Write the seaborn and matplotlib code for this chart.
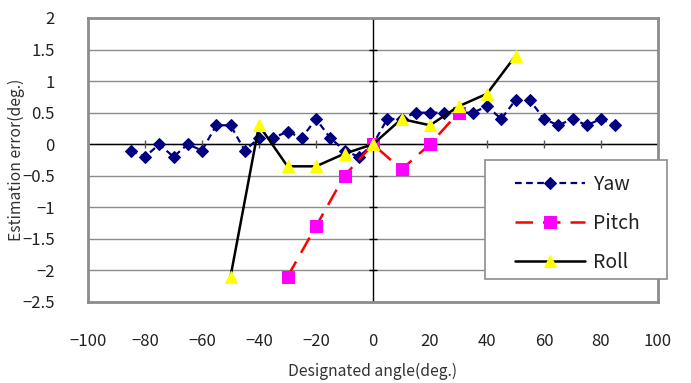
import numpy as np
import pandas as pd
import matplotlib
matplotlib.use("Agg")
import matplotlib.pyplot as plt
from matplotlib.patches import Rectangle
import seaborn as sns

# ---- data ----
yaw_x = [-85, -80, -75, -70, -65, -60, -55, -50, -45, -40, -35, -30, -25, -20, -15, -10, -5, 0,
         5, 10, 15, 20, 25, 30, 35, 40, 45, 50, 55, 60, 65, 70, 75, 80, 85]
yaw_y = [-0.1, -0.2, 0.0, -0.2, 0.0, -0.1, 0.3, 0.3, -0.1, 0.1, 0.1, 0.2, 0.1, 0.4, 0.1, -0.1, -0.2, 0.0,
         0.4, 0.4, 0.5, 0.5, 0.5, 0.5, 0.5, 0.6, 0.4, 0.7, 0.7, 0.4, 0.3, 0.4, 0.3, 0.4, 0.3]
pitch_x = [-30, -20, -10, 0, 10, 20, 30]
pitch_y = [-2.1, -1.3, -0.5, 0.0, -0.4, 0.0, 0.5]
roll_x = [-50, -40, -30, -20, -10, 0, 10, 20, 30, 40, 50]
roll_y = [-2.1, 0.3, -0.35, -0.35, -0.15, 0.0, 0.4, 0.3, 0.6, 0.8, 1.4]

x_ticks = [-100, -80, -60, -40, -20, 0, 20, 40, 60, 80, 100]
y_ticks = [-2.5, -2, -1.5, -1, -0.5, 0, 0.5, 1, 1.5, 2]
x_label = "Designated angle(deg.)"
y_label = "Estimation error(deg.)"

sns.set_style("white")
plt.rcParams['font.family'] = ['Noto Sans CJK JP', 'DejaVu Sans']

W, H = 691, 383
fig = plt.figure(figsize=(W / 100, H / 100), dpi=100)
ax = fig.add_axes([88 / W, 1 - 302 / H, (658 - 88) / W, (302 - 18) / H])

ax.set_xlim(-100, 100)
ax.set_ylim(-2.5, 2)

# gridlines
for yv in y_ticks[1:-1]:
    ax.axhline(yv, color="#8c8c8c", lw=1.0, zorder=0)
# axes through origin
ax.axhline(0, color="black", lw=1.0, zorder=1)
ax.axvline(0, color="black", lw=1.0, zorder=1)
# small ticks on the zero axes
ax.vlines([t for t in x_ticks if t not in (-100, 0, 100)], -0.06, 0.06, color="#555555", lw=1.0, zorder=1)
ax.hlines([t for t in y_ticks if t not in (-2.5, 2)], -1.5, 1.5, color="black", lw=1.0, zorder=1)

df_yaw = pd.DataFrame({"x": yaw_x, "y": yaw_y})
df_pitch = pd.DataFrame({"x": pitch_x, "y": pitch_y})
df_roll = pd.DataFrame({"x": roll_x, "y": roll_y})

sns.lineplot(data=df_yaw, x="x", y="y", ax=ax, color="#000080", linestyle=(0, (3, 2)), lw=1.6,
             marker="D", markersize=6.5, markerfacecolor="#000080", markeredgecolor="#000080",
             label="Yaw", zorder=3)
sns.lineplot(data=df_pitch, x="x", y="y", ax=ax, color="#ff0000", linestyle=(0, (7, 4)), lw=1.8,
             marker="s", markersize=8, markerfacecolor="#ff00ff", markeredgecolor="#ff00ff",
             label="Pitch", zorder=4)
sns.lineplot(data=df_roll, x="x", y="y", ax=ax, color="black", linestyle="-", lw=1.8,
             marker="^", markersize=9, markerfacecolor="#ffff00", markeredgecolor="#ffff00",
             label="Roll", zorder=5)

# frame
for s in ax.spines.values():
    s.set_color("#8c8c8c")
    s.set_linewidth(2.0)

def fmt(v):
    s = ("%g" % v)
    return s.replace("-", "\u2212")

ax.set_xticks(x_ticks)
ax.set_xticklabels([fmt(v) for v in x_ticks])
ax.set_yticks(y_ticks)
ax.set_yticklabels([fmt(v) for v in y_ticks])
ax.tick_params(axis="both", length=0, labelsize=12, colors="#222222")
ax.tick_params(axis="x", pad=22)
ax.tick_params(axis="y", pad=24)
ax.set_xlabel(x_label, fontsize=11.3, color="#333333")
ax.set_ylabel(y_label, fontsize=11.3, color="#333333")
ax.xaxis.set_label_coords(0.5, (302 - 363) / 284)
ax.yaxis.set_label_coords((25 - 88) / 570, 0.5)

# legend box (drawn as a rectangle in figure pixels) with the legend entries inside
box = Rectangle((485 / W, 1 - 279 / H), (667 - 485) / W, (279 - 160) / H, transform=fig.transFigure,
                facecolor="white", edgecolor="#8c8c8c", lw=1.2, zorder=9)
fig.patches.append(box)

leg = ax.legend(loc="upper left", bbox_to_anchor=(515 / W, 1 - 173.5 / H), bbox_transform=fig.transFigure,
                frameon=False, fontsize=14,
                handlelength=3.6, handletextpad=0.4, labelspacing=0.93, borderpad=0,
                borderaxespad=0, numpoints=1)
for t in leg.get_texts():
    t.set_color("#222222")
leg.remove()
fig.legends.append(leg)
leg.set_zorder(10)

fig.savefig("out.png", dpi=100)
